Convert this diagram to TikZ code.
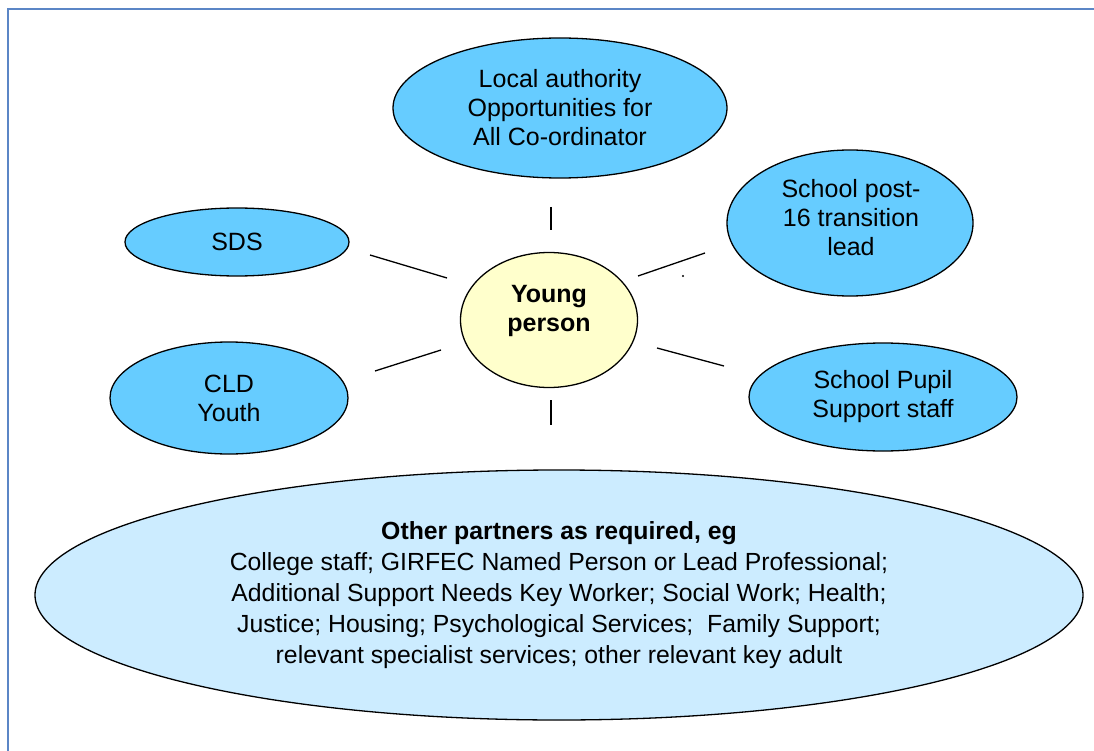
\documentclass[tikz,border=0pt]{standalone}
\usepackage{fontspec}
\setmainfont{Liberation Sans}
\usetikzlibrary{shapes.geometric}
\definecolor{boxblue}{HTML}{66CCFF}
\definecolor{youngfill}{HTML}{FFFFCC}
\definecolor{otherfill}{HTML}{CCECFF}
\definecolor{framecol}{HTML}{5B86C6}
\begin{document}
\begin{tikzpicture}[x=1pt,y=-1pt,
  partner/.style={ellipse, draw=black, line width=1.3pt, fill=boxblue, inner sep=0pt, align=center, font=\fontsize{25}{29}\selectfont},
  center/.style={ellipse, draw=black, line width=1.3pt, fill=youngfill, inner sep=0pt},
  other/.style={ellipse, draw=black, line width=1.3pt, fill=otherfill, inner sep=0pt, align=center, font=\fontsize{24.8}{31}\selectfont},
  txt/.style={inner sep=0pt, align=center, font=\fontsize{25}{29}\selectfont},
  link/.style={draw=black, line width=1.3pt}]
\useasboundingbox (0,0) rectangle (1094,751);
\fill[white] (0,0) rectangle (1094,751);
\draw[framecol, line width=2.6pt] (8,751) -- (8,9) -- (1094,9);

\node[other, minimum width=1048pt, minimum height=250pt] (oth) at (559,595)
  {\textbf{Other partners as required, eg}\\
   College staff; GIRFEC Named Person or Lead Professional;\\
   Additional Support Needs Key Worker; Social Work; Health;\\
   Justice; Housing; Psychological Services;\ \ Family Support;\\
   relevant specialist services; other relevant key adult};

\node[partner, minimum width=334pt, minimum height=140pt] (la) at (560,108)
  {Local authority\\Opportunities for\\All Co-ordinator};
\node[partner, minimum width=224pt, minimum height=68pt] (sds) at (237,242) {SDS};
\node[partner, minimum width=238pt, minimum height=112pt] (cld) at (229,398) {CLD\\Youth};
\node[partner, minimum width=246pt, minimum height=146pt] (post) at (850,223) {};
\node[txt] (posttext) at (851,218) {School post-\\16 transition\\lead};
\node[partner, minimum width=268pt, minimum height=108pt] (pupil) at (883,397)
  {School Pupil\\Support staff};
\node[center, minimum width=177pt, minimum height=135pt] (yp) at (549,320) {};
\node[txt] (yptext) at (549,311) {\textbf{Young}\\\textbf{person}};

\coordinate (t1) at (551,207); \coordinate (t2) at (551,230);
\coordinate (s1) at (370,255); \coordinate (s2) at (447,278);
\coordinate (c1) at (375,371); \coordinate (c2) at (441,350);
\coordinate (p1) at (638,276); \coordinate (p2) at (705,253);
\coordinate (u1) at (657,348); \coordinate (u2) at (724,366);
\coordinate (b1) at (551,400); \coordinate (b2) at (551,425);
\draw[link] (t1) -- (t2);
\draw[link] (s1) -- (s2);
\draw[link] (c1) -- (c2);
\draw[link] (p1) -- (p2);
\draw[link] (u1) -- (u2);
\draw[link] (b1) -- (b2);
\fill[black] (683,276) circle (1.2pt);
\end{tikzpicture}
\end{document}
